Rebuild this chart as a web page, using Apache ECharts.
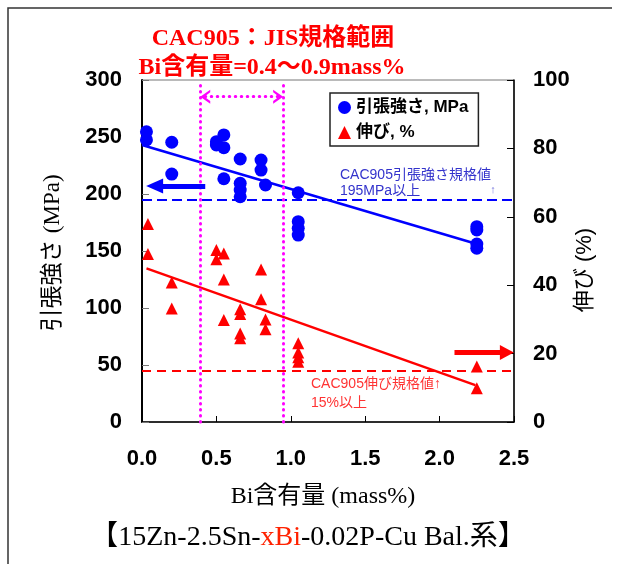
<!DOCTYPE html>
<html>
<head>
<meta charset="utf-8">
<script src="https://cdn.jsdelivr.net/npm/echarts/dist/echarts.min.js"></script>
<style>
  html, body { margin: 0; padding: 0; background: #fff; }
  #chart { width: 632px; height: 564px; }
</style>
</head>
<body>
<div id="chart"></div>
<script>
// 引張強さ (MPa) vs Bi含有量
var tsBi = [0.03, 0.03, 0.2, 0.2, 0.5, 0.5, 0.55, 0.55, 0.55, 0.66, 0.66, 0.66, 0.66, 0.8, 0.8, 0.83, 1.05, 1.05, 1.05, 1.05, 2.25, 2.25, 2.25, 2.25];
var tsVal = [254.6, 247.4, 245.4, 217.5, 245.9, 243, 251.8, 240.6, 213.4, 230.7, 209.4, 203.5, 197.6, 229.8, 221, 207.9, 201.1, 175.7, 169.9, 164, 171.3, 168.4, 156.1, 152.4];
// 伸び (%) vs Bi含有量
var elBi = [0.04, 0.04, 0.2, 0.2, 0.5, 0.55, 0.5, 0.8, 0.55, 0.8, 0.66, 0.66, 0.55, 0.83, 0.83, 0.66, 0.66, 1.05, 1.05, 1.05, 1.05, 2.25, 2.25];
var elVal = [57.9, 49.1, 40.8, 33.2, 50.3, 49.3, 47.6, 44.6, 41.7, 35.9, 33, 31.6, 29.8, 30, 27.1, 25.9, 24.5, 23, 20.3, 18.9, 17.6, 16.2, 9.9];
// 近似直線 (端点)
var tsTrend = [[0, 243], [2.25, 156.1]];
var elTrend = [[0.03, 44.9], [2.24, 10.8]];
// 規格値
var tsSpec = 195;
var elSpec = 15;
// JIS規格範囲 Bi=0.4~0.9 (図中の点線位置)
var biRange = [0.39, 0.95];
var xTicks = [0, 0.5, 1.0, 1.5, 2.0, 2.5];

function pairs(xs, ys) {
    return xs.map(function(x, i) { return [x, ys[i]]; });
}

var sans = 'Liberation Sans, Noto Sans CJK JP, sans-serif';
var serif = 'Liberation Serif, Noto Sans CJK JP, serif';

var chart = echarts.init(document.getElementById('chart'));
var option = {
    animation: false,
    grid: { left: 142, right: 118, top: 80, bottom: 142, show: true, borderColor: '#777', borderWidth: 1 },
    legend: {
        orient: 'vertical',
        left: 330,
        top: 93,
        itemWidth: 13,
        itemHeight: 13,
        itemGap: 8,
        padding: [6, 10, 5, 8],
        borderColor: '#222',
        borderWidth: 1.5,
        textStyle: { fontSize: 17, fontWeight: 'bold', fontFamily: sans, color: '#000' },
        data: [{ name: '引張強さ, MPa', icon: 'circle' }, { name: '伸び, %', icon: 'triangle' }]
    },
    xAxis: {
        type: 'value', min: xTicks[0], max: xTicks[xTicks.length - 1], interval: 0.5,
        axisLine: { lineStyle: { color: '#000', width: 1.5 } },
        axisTick: { inside: true, length: 6, lineStyle: { color: '#000' } },
        splitLine: { show: false },
        axisLabel: {
            margin: 26, fontSize: 22, fontWeight: 'bold', fontFamily: sans, color: '#000',
            formatter: function(v) { return v.toFixed(1); }
        }
    },
    yAxis: [{
        type: 'value', min: 0, max: 300, interval: 50,
        axisLine: { show: true, lineStyle: { color: '#000', width: 2 } },
        axisTick: { show: true, inside: true, length: 7, lineStyle: { color: '#777' } },
        splitLine: { show: false },
        axisLabel: { margin: 20, fontSize: 22, fontWeight: 'bold', fontFamily: sans, color: '#000' }
    }, {
        type: 'value', min: 0, max: 100, interval: 20, position: 'right',
        axisLine: { show: true, lineStyle: { color: '#000', width: 1.5 } },
        axisTick: { show: true, inside: true, length: 7, lineStyle: { color: '#000' } },
        splitLine: { show: false },
        axisLabel: { margin: 19, fontSize: 22, fontWeight: 'bold', fontFamily: sans, color: '#000' }
    }],
    series: [{
        type: 'line', yAxisIndex: 0, data: tsTrend, symbol: 'none', silent: true,
        lineStyle: { color: '#0000ff', width: 2.5 },
        markLine: {
            silent: true, symbol: 'none', label: { show: false },
            data: [
                { yAxis: tsSpec, lineStyle: { color: '#0000ff', width: 2, type: [10, 5] } },
                { xAxis: biRange[0], lineStyle: { color: '#ff00ff', width: 3, type: [0.5, 5.5], cap: 'round' } },
                { xAxis: biRange[1], lineStyle: { color: '#ff00ff', width: 3, type: [0.5, 5.5], cap: 'round' } },
                [{ coord: [biRange[0] + 0.035, 285.4], symbol: 'path://M0,12 L8,0 L16,12 L13,12 L8,5 L3,12 Z', symbolSize: [14, 10] },
                 { coord: [biRange[1] - 0.035, 285.4], symbol: 'path://M0,12 L8,0 L16,12 L13,12 L8,5 L3,12 Z', symbolSize: [14, 10],
                   lineStyle: { color: '#ff00ff', width: 3, type: [0.5, 5.5], cap: 'round' } }],
                [{ coord: [0.425, 207], symbol: 'none' },
                 { coord: [0.085, 207], symbol: 'triangle', symbolSize: [15, 17], lineStyle: { color: '#0000ff', width: 5, type: 'solid' } }]
            ]
        }
    }, {
        type: 'line', yAxisIndex: 1, data: elTrend, symbol: 'none', silent: true,
        lineStyle: { color: '#ff0000', width: 2.5 },
        markLine: {
            silent: true, symbol: 'none', label: { show: false },
            data: [
                { yAxis: elSpec, lineStyle: { color: '#ff0000', width: 2, type: [9, 6] } },
                [{ coord: [2.1, 20.3], symbol: 'none' },
                 { coord: [2.452, 20.3], symbol: 'triangle', symbolSize: [15, 14], lineStyle: { color: '#ff0000', width: 5, type: 'solid' } }]
            ]
        }
    }, {
        name: '引張強さ, MPa', type: 'scatter', yAxisIndex: 0, data: pairs(tsBi, tsVal),
        symbol: 'circle', symbolSize: 13, itemStyle: { color: '#0000ff', opacity: 1 }
    }, {
        name: '伸び, %', type: 'scatter', yAxisIndex: 1, data: pairs(elBi, elVal),
        symbol: 'triangle', symbolSize: 12, itemStyle: { color: '#ff0000', opacity: 1 }
    }],
    graphic: [
        { type: 'polyline', silent: true, shape: { points: [[8, 564], [8, 8], [612, 8]] }, style: { stroke: '#333', lineWidth: 1.5, fill: null } },
        { type: 'text', style: { x: 273, y: 39, text: 'CAC905：JIS規格範囲', align: 'center', verticalAlign: 'middle', fill: '#ff0000', font: 'bold 24px ' + serif } },
        { type: 'text', style: { x: 272, y: 68, text: 'Bi含有量=0.4～0.9mass%', align: 'center', verticalAlign: 'middle', fill: '#ff0000', font: 'bold 24px ' + serif } },
        { type: 'text', style: { x: 340, y: 175, text: 'CAC905引張強さ規格値', verticalAlign: 'middle', fill: '#3333cc', font: '14px ' + sans } },
        { type: 'text', style: { x: 340, y: 191, text: '195MPa以上', verticalAlign: 'middle', fill: '#3333cc', font: '14px ' + sans } },
        { type: 'text', style: { x: 493, y: 190, text: '↑', align: 'center', verticalAlign: 'middle', fill: '#7777dd', font: '11px ' + sans } },
        { type: 'text', style: { x: 311, y: 384, text: 'CAC905伸び規格値↑', verticalAlign: 'middle', fill: '#ff3333', font: '14px ' + sans } },
        { type: 'text', style: { x: 311, y: 403, text: '15%以上', verticalAlign: 'middle', fill: '#ff3333', font: '14px ' + sans } },
        { type: 'text', rotation: Math.PI / 2, x: 53, y: 253, style: {
            text: '{c|引張強さ }{s|(MPa)}', align: 'center', verticalAlign: 'middle',
            rich: { c: { fontSize: 23, fontFamily: sans, fill: '#000' }, s: { fontSize: 23, fontFamily: serif, fill: '#000' } } } },
        { type: 'text', rotation: Math.PI / 2, x: 585, y: 270, style: {
            text: '{c|伸び }{s|(%)}', align: 'center', verticalAlign: 'middle',
            rich: { c: { fontSize: 22, fontFamily: sans, fill: '#000' }, s: { fontSize: 22, fontFamily: sans, fill: '#000' } } } },
        { type: 'text', style: { x: 323, y: 497, text: 'Bi含有量 (mass%)', align: 'center', verticalAlign: 'middle', fill: '#000', font: '24px ' + serif } },
        { type: 'text', style: {
            x: 308, y: 538, text: '{a|【15Zn-2.5Sn-}{r|xBi}{a|-0.02P-Cu Bal.系】}', align: 'center', verticalAlign: 'middle',
            rich: { a: { fontSize: 28, fontFamily: serif, fill: '#000' }, r: { fontSize: 28, fontFamily: serif, fill: '#ff2200' } } } }
    ]
};
chart.setOption(option);
</script>
</body>
</html>
